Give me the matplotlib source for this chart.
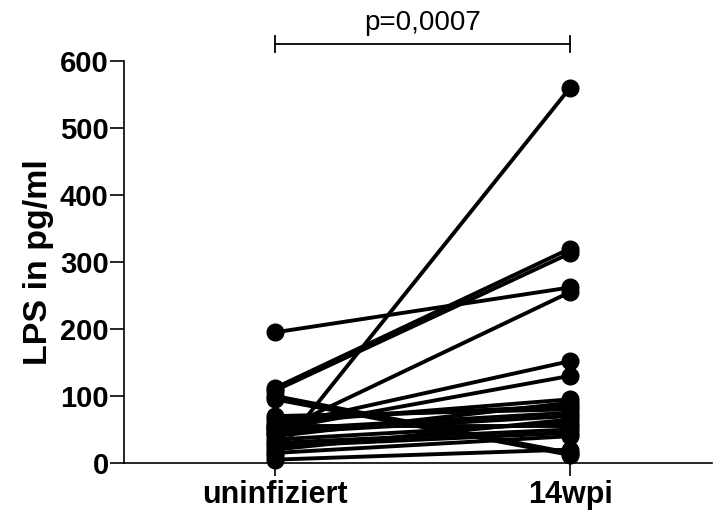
import matplotlib
matplotlib.use("Agg")
import matplotlib.pyplot as plt

categories = ["uninfiziert", "14wpi"]
uninfiziert = [195, 112, 108, 45, 10, 100, 95, 55, 50, 60, 40, 70, 50, 45, 35, 55, 30, 25, 15, 5, 20, 65]
wpi14 =       [262, 320, 313, 255, 560, 15, 12, 152, 130, 95, 90, 80, 75, 70, 60, 55, 50, 45, 40, 20, 65, 85]
yticks = [0, 100, 200, 300, 400, 500, 600]
p_label = "p=0,0007"

plt.rcParams['font.family'] = ['Liberation Sans', 'DejaVu Sans']
fig = plt.figure(figsize=(7.18, 5.15), dpi=100)
ax = fig.add_axes([0.1727, 0.101, 0.8189, 0.7806])

for a, b in zip(uninfiziert, wpi14):
    ax.plot([0, 1], [a, b], color='black', lw=2.8, marker='o', markersize=12,
            clip_on=False, solid_capstyle='butt')

ax.set_xlim(-0.512, 1.481)
ax.set_ylim(0, 600)
ax.set_xticks([0, 1])
ax.set_xticklabels(categories, fontsize=22, fontweight='bold')
ax.set_yticks(yticks)
ax.set_yticklabels([str(t) for t in yticks], fontsize=21, fontweight='bold')
ax.set_ylabel("LPS in pg/ml", fontsize=24.5, fontweight='bold', labelpad=4)
for s in ['top', 'right']:
    ax.spines[s].set_visible(False)
for s in ['left', 'bottom']:
    ax.spines[s].set_linewidth(1.2)
ax.tick_params(axis='y', length=10, width=1.2, pad=1)
ax.tick_params(axis='x', length=9, width=1.2, pad=3)

# significance bracket
yb = 625
ax.plot([0, 1], [yb, yb], color='black', lw=1.3, clip_on=False)
for xx in [0, 1]:
    ax.plot([xx, xx], [yb - 12, yb + 12], color='black', lw=1.3, clip_on=False)
ax.text(0.5, 646, p_label, ha='center', va='baseline', fontsize=20)

fig.savefig("out.png", dpi=100)
